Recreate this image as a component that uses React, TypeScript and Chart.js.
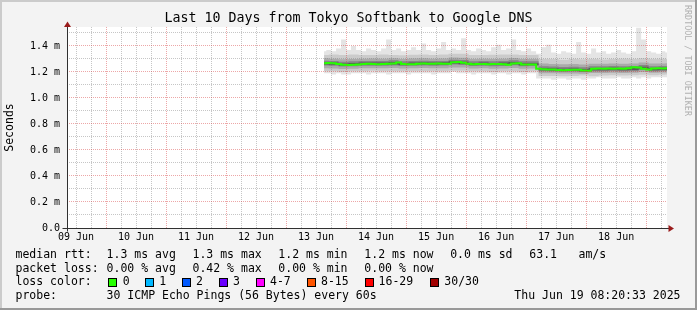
import React, { useEffect, useRef } from 'react';
import { Chart, registerables } from 'chart.js';

Chart.register(...registerables);

const FONT = '"DejaVu Sans Mono", "Liberation Mono", monospace';

const TITLE = 'Last 10 Days from Tokyo Softbank to Google DNS';
const Y_TITLE = 'Seconds';
const WATERMARK = 'RRDTOOL / TOBI OETIKER';

// x axis: hours since 09 Jun 00:00
const X_MIN = 8.4;
const X_MAX = 248.34;
const Y_MAX = 1.546;

const dayLabels = ['09 Jun', '10 Jun', '11 Jun', '12 Jun', '13 Jun', '14 Jun', '15 Jun', '16 Jun', '17 Jun', '18 Jun'];

// median rtt (ms), 2-hour resolution
const medianTimes = [
  111.2, 113, 115, 117, 119, 121, 123, 125, 127, 129,
  131, 133, 135, 137, 139, 141, 143, 145, 147, 149,
  151, 153, 155, 157, 159, 161, 163, 165, 167, 169,
  171, 173, 175, 177, 179, 181, 183, 185, 187, 189,
  191, 193, 195, 197, 199, 201, 203, 205, 207, 209,
  211, 213, 215, 217, 219, 221, 223, 225, 227, 229,
  231, 233, 235, 237, 239, 241, 243, 245, 247, 248.34,
];
const medianMs = [
  1.268, 1.270, 1.267, 1.262, 1.256, 1.254, 1.255, 1.258, 1.262, 1.263,
  1.261, 1.260, 1.262, 1.263, 1.265, 1.272, 1.262, 1.259, 1.260, 1.264,
  1.265, 1.263, 1.264, 1.266, 1.263, 1.264, 1.275, 1.277, 1.271, 1.263,
  1.260, 1.261, 1.262, 1.260, 1.262, 1.261, 1.259, 1.255, 1.266, 1.268,
  1.258, 1.257, 1.258, 1.225, 1.221, 1.219, 1.220, 1.216, 1.214, 1.215,
  1.218, 1.217, 1.211, 1.210, 1.224, 1.226, 1.225, 1.227, 1.224, 1.226,
  1.225, 1.228, 1.236, 1.235, 1.224, 1.220, 1.227, 1.229, 1.226, 1.228,
];
// outermost smoke (max / min ping), same times
const smokeMax = [
  1.36, 1.37, 1.36, 1.38, 1.45, 1.37, 1.40, 1.37, 1.36, 1.38,
  1.37, 1.36, 1.38, 1.45, 1.37, 1.38, 1.36, 1.37, 1.39, 1.37,
  1.42, 1.37, 1.36, 1.38, 1.43, 1.37, 1.38, 1.37, 1.46, 1.37,
  1.36, 1.38, 1.37, 1.36, 1.39, 1.41, 1.37, 1.38, 1.45, 1.37,
  1.36, 1.38, 1.36, 1.34, 1.39, 1.41, 1.35, 1.34, 1.36, 1.35,
  1.34, 1.43, 1.35, 1.34, 1.38, 1.35, 1.36, 1.34, 1.35, 1.37,
  1.35, 1.34, 1.36, 1.54, 1.45, 1.36, 1.35, 1.34, 1.36, 1.35,
];
const smokeMin = [
  1.19, 1.19, 1.18, 1.19, 1.18, 1.18, 1.19, 1.19, 1.19, 1.18,
  1.19, 1.19, 1.19, 1.18, 1.19, 1.19, 1.19, 1.18, 1.19, 1.19,
  1.19, 1.19, 1.18, 1.19, 1.19, 1.19, 1.20, 1.19, 1.19, 1.19,
  1.18, 1.19, 1.19, 1.19, 1.18, 1.19, 1.19, 1.18, 1.19, 1.19,
  1.18, 1.19, 1.19, 1.15, 1.15, 1.15, 1.14, 1.15, 1.15, 1.14,
  1.15, 1.15, 1.14, 1.15, 1.15, 1.16, 1.15, 1.15, 1.15, 1.16,
  1.15, 1.15, 1.16, 1.15, 1.16, 1.15, 1.16, 1.16, 1.16, 1.16,
];

// inner smoke bands, 4-hour resolution
const bandTimes = [
  111.2, 115, 119, 123, 127, 131, 135, 139, 143, 147,
  151, 155, 159, 163, 167, 171, 175, 179, 183, 187,
  191, 195, 199, 203, 207, 211, 215, 219, 223, 227,
  231, 235, 239, 243, 247, 248.34,
];
const band1Low = [
  1.205, 1.205, 1.200, 1.205, 1.205, 1.210, 1.205, 1.205, 1.205, 1.205,
  1.205, 1.205, 1.205, 1.210, 1.210, 1.205, 1.205, 1.200, 1.205, 1.205,
  1.200, 1.205, 1.170, 1.170, 1.168, 1.170, 1.172, 1.168, 1.172, 1.175,
  1.172, 1.175, 1.178, 1.175, 1.178, 1.180,
];
const band1High = [
  1.330, 1.335, 1.330, 1.335, 1.330, 1.330, 1.335, 1.330, 1.328, 1.332,
  1.335, 1.330, 1.335, 1.340, 1.340, 1.330, 1.330, 1.332, 1.335, 1.335,
  1.330, 1.330, 1.300, 1.300, 1.295, 1.300, 1.298, 1.300, 1.296, 1.300,
  1.302, 1.300, 1.305, 1.300, 1.302, 1.300,
];
const band2Low = [
  1.228, 1.226, 1.222, 1.225, 1.228, 1.228, 1.228, 1.230, 1.226, 1.228,
  1.230, 1.228, 1.228, 1.235, 1.234, 1.226, 1.228, 1.225, 1.226, 1.230,
  1.225, 1.226, 1.190, 1.190, 1.188, 1.188, 1.186, 1.192, 1.192, 1.194,
  1.192, 1.194, 1.200, 1.194, 1.196, 1.196,
];
const band2High = [
  1.305, 1.302, 1.298, 1.300, 1.302, 1.304, 1.302, 1.305, 1.300, 1.303,
  1.305, 1.302, 1.303, 1.312, 1.310, 1.300, 1.302, 1.300, 1.302, 1.308,
  1.300, 1.300, 1.265, 1.262, 1.260, 1.262, 1.258, 1.264, 1.264, 1.266,
  1.264, 1.266, 1.272, 1.266, 1.266, 1.268,
];
const band3Low = [
  1.250, 1.248, 1.242, 1.245, 1.248, 1.248, 1.248, 1.250, 1.246, 1.248,
  1.250, 1.248, 1.250, 1.258, 1.254, 1.246, 1.248, 1.245, 1.246, 1.252,
  1.245, 1.246, 1.206, 1.204, 1.202, 1.204, 1.200, 1.206, 1.206, 1.208,
  1.206, 1.208, 1.215, 1.206, 1.208, 1.208,
];
const band3High = [
  1.287, 1.284, 1.278, 1.282, 1.284, 1.285, 1.284, 1.290, 1.282, 1.284,
  1.286, 1.284, 1.285, 1.295, 1.292, 1.282, 1.284, 1.282, 1.284, 1.290,
  1.282, 1.282, 1.245, 1.242, 1.238, 1.240, 1.236, 1.244, 1.244, 1.246,
  1.244, 1.246, 1.254, 1.244, 1.246, 1.246,
];
const band4Low = [
  1.258, 1.256, 1.250, 1.253, 1.256, 1.256, 1.256, 1.258, 1.254, 1.256,
  1.258, 1.256, 1.258, 1.266, 1.262, 1.254, 1.256, 1.253, 1.254, 1.260,
  1.252, 1.253, 1.214, 1.212, 1.208, 1.210, 1.206, 1.214, 1.214, 1.216,
  1.214, 1.216, 1.224, 1.214, 1.216, 1.216,
];
const band4High = [
  1.274, 1.272, 1.266, 1.270, 1.272, 1.272, 1.272, 1.276, 1.270, 1.272,
  1.274, 1.272, 1.274, 1.282, 1.278, 1.270, 1.272, 1.270, 1.272, 1.276,
  1.268, 1.268, 1.230, 1.228, 1.224, 1.226, 1.222, 1.230, 1.230, 1.232,
  1.230, 1.232, 1.240, 1.230, 1.232, 1.232,
];

// legend texts
const rttRow = ['median rtt:', '1.3 ms avg', '1.3 ms max', '1.2 ms min', '1.2 ms now', '0.0 ms sd', '63.1', 'am/s'];
const lossRow = ['packet loss:', '0.00 % avg', '0.42 % max', '0.00 % min', '0.00 % now'];
const lossLabels = ['0', '1', '2', '3', '4-7', '8-15', '16-29', '30/30'];
const lossColors = ['#26ff00', '#00b8ff', '#0059ff', '#6a00ff', '#ff00ff', '#ff5500', '#ff0000', '#a10000'];
const probeText = '30 ICMP Echo Pings (56 Bytes) every 60s';
const dateText = 'Thu Jun 19 08:20:33 2025';

// layout of legend (pixel positions)
const rttX = [15.5, 106.6, 192.5, 278.3, 364.3, 450.2, 529.3, 578.5];
const lossX = [15.5, 106.6, 192.5, 278.3, 364.3];
const boxX = [108, 145, 182, 219, 256, 307, 365, 430];
const boxTextX = [122.8, 159.2, 196, 233, 270, 321, 378.6, 444.3];
const rowY = [257.6, 271.5, 285.4, 299.3];

const pts = (xs: number[], ys: number[]) => xs.map((x, i) => ({ x, y: ys[i] }));

const bandDs = (low: number[], high: number[], times: number[], color: string, order: number) => [
  {
    data: pts(times, low), borderColor: 'transparent', backgroundColor: 'transparent',
    borderWidth: 0, pointRadius: 0, fill: false, stepped: 'middle', order,
  },
  {
    data: pts(times, high), borderColor: 'transparent', backgroundColor: color,
    borderWidth: 0, pointRadius: 0, fill: '-1', stepped: 'middle', order,
  },
];

const rrdPlugin = {
  id: 'rrdLook',
  beforeDraw(chart: any) {
    const { ctx, width, height, chartArea: a } = chart;
    ctx.save();
    ctx.fillStyle = '#f3f3f3';
    ctx.fillRect(0, 0, width, height);
    ctx.fillStyle = '#cbcbcb';
    ctx.fillRect(0, 0, width, 2);
    ctx.fillRect(0, 0, 2, height);
    ctx.fillStyle = '#999999';
    ctx.fillRect(width - 2, 0, 2, height);
    ctx.fillRect(0, height - 2, width, 2);
    ctx.fillStyle = '#ffffff';
    ctx.fillRect(a.left, a.top, a.right - a.left, a.bottom - a.top);
    ctx.restore();
  },
  afterDraw(chart: any) {
    const { ctx, chartArea: a } = chart;
    const xs = chart.scales.x;
    const ys = chart.scales.y;
    const x0 = Math.round(xs.getPixelForValue(X_MIN)) + 0.5;
    const y0 = Math.round(ys.getPixelForValue(0)) + 0.5;
    ctx.save();
    // axes
    ctx.strokeStyle = '#303030';
    ctx.lineWidth = 1;
    ctx.beginPath();
    ctx.moveTo(x0 - 5, y0);
    ctx.lineTo(a.right + 2, y0);
    ctx.moveTo(x0, y0 + 3);
    ctx.lineTo(x0, a.top - 1);
    ctx.stroke();
    ctx.fillStyle = '#9a1c1c';
    ctx.beginPath();
    ctx.moveTo(a.right + 1.5, y0 - 3.5);
    ctx.lineTo(a.right + 7, y0);
    ctx.lineTo(a.right + 1.5, y0 + 3.5);
    ctx.closePath();
    ctx.fill();
    ctx.beginPath();
    ctx.moveTo(x0 - 3.5, a.top);
    ctx.lineTo(x0, a.top - 5.5);
    ctx.lineTo(x0 + 3.5, a.top);
    ctx.closePath();
    ctx.fill();

    // legend
    ctx.fillStyle = '#000';
    ctx.font = `11.5px ${FONT}`;
    ctx.textBaseline = 'alphabetic';
    ctx.textAlign = 'left';
    rttRow.forEach((t, i) => ctx.fillText(t, rttX[i], rowY[0]));
    lossRow.forEach((t, i) => ctx.fillText(t, lossX[i], rowY[1]));
    ctx.fillText('loss color:', 15.5, rowY[2]);
    lossLabels.forEach((t, i) => {
      ctx.fillStyle = lossColors[i];
      ctx.fillRect(boxX[i], 278, 9, 9);
      ctx.strokeStyle = '#000';
      ctx.strokeRect(boxX[i] + 0.5, 278.5, 8, 8);
      ctx.fillStyle = '#000';
      ctx.fillText(t, boxTextX[i], rowY[2]);
    });
    ctx.fillText('probe:', 15.5, rowY[3]);
    ctx.fillText(probeText, 106.6, rowY[3]);
    ctx.textAlign = 'right';
    ctx.fillText(dateText, 680.5, rowY[3]);

    // watermark
    ctx.save();
    ctx.translate(687, 5);
    ctx.rotate(Math.PI / 2);
    ctx.textAlign = 'left';
    ctx.textBaseline = 'middle';
    ctx.fillStyle = '#b0b0b0';
    ctx.font = `8.4px ${FONT}`;
    ctx.fillText(WATERMARK, 0, 0);
    ctx.restore();
    ctx.restore();
  },
};

const gridHours: number[] = [];
for (let h = 12; h <= X_MAX; h += 6) gridHours.push(h);
const yTickValues: number[] = [];
for (let k = 0; k <= 15; k++) yTickValues.push(k / 10);

const MAJOR = 'rgba(215,60,60,0.45)';
const MINOR = 'rgba(120,120,120,0.42)';

export default function App() {
  const ref = useRef<HTMLCanvasElement>(null);
  useEffect(() => {
    document.body.style.margin = '0';
    const datasets: any[] = [
      ...bandDs(smokeMin, smokeMax, medianTimes, '#e4e4e4', 50),
      ...bandDs(band1Low, band1High, bandTimes, '#cbcbcb', 40),
      ...bandDs(band2Low, band2High, bandTimes, '#aaaaaa', 30),
      ...bandDs(band3Low, band3High, bandTimes, '#858585', 20),
      ...bandDs(band4Low, band4High, bandTimes, '#5a5a5a', 10),
      {
        data: pts(medianTimes, medianMs), borderColor: '#26ff00', backgroundColor: '#26ff00',
        borderWidth: 2, pointRadius: 0, fill: false, stepped: 'middle', order: 0,
      },
    ];
    const chart = new Chart(ref.current as HTMLCanvasElement, {
      type: 'line',
      data: { datasets },
      options: {
        animation: false,
        responsive: false,
        devicePixelRatio: 1,
        layout: { padding: 0 },
        plugins: {
          legend: { display: false },
          tooltip: { enabled: false },
          title: {
            display: true, text: TITLE, color: '#000',
            font: { family: FONT, size: 13.3, weight: 'normal', lineHeight: '16px' },
            padding: { top: 11, bottom: 0 },
          },
        },
        scales: {
          x: {
            type: 'linear', min: X_MIN, max: X_MAX,
            afterBuildTicks: (s: any) => { s.ticks = gridHours.map((v) => ({ value: v })); },
            afterFit: (s: any) => { s.height = 82; },
            ticks: {
              autoSkip: false, maxRotation: 0, padding: 3, color: '#000',
              font: { family: FONT, size: 10 },
              callback: (v: any) => (v % 24 === 12 ? dayLabels[(v - 12) / 24] : ''),
            },
            grid: {
              drawTicks: false, lineWidth: 1, z: 1,
              color: (c: any) => (c.tick && c.tick.value % 24 === 0 ? MAJOR : MINOR),
            },
            border: { display: false, dash: [1, 1] },
          },
          y: {
            type: 'linear', min: 0, max: Y_MAX,
            afterBuildTicks: (s: any) => { s.ticks = yTickValues.map((v) => ({ value: v })); },
            afterFit: (s: any) => { s.width = 67; },
            ticks: {
              autoSkip: false, padding: 7, color: '#000',
              font: { family: FONT, size: 10 },
              callback: (v: any) => {
                const k = Math.round(v * 10);
                if (k % 2) return '';
                return k === 0 ? '0.0' : (k / 10).toFixed(1) + ' m';
              },
            },
            grid: {
              drawTicks: false, lineWidth: 1, z: 1,
              color: (c: any) => (c.tick && Math.round(c.tick.value * 10) % 2 === 0 ? MAJOR : MINOR),
            },
            border: { display: false, dash: [1, 1] },
            title: {
              display: true, text: Y_TITLE, color: '#000',
              font: { family: FONT, size: 11.5 },
              padding: { top: 3, bottom: 0 },
            },
          },
          yRight: {
            type: 'linear', position: 'right', display: true, min: 0, max: Y_MAX,
            afterFit: (s: any) => { s.width = 30; },
            ticks: { display: false },
            grid: { display: false, drawTicks: false },
            border: { display: false },
          },
        },
      },
      plugins: [rrdPlugin],
    } as any);
    return () => chart.destroy();
  }, []);
  return (
    <div style={{ width: 697, height: 310 }}>
      <canvas ref={ref} width={697} height={310} style={{ display: 'block' }} />
    </div>
  );
}
